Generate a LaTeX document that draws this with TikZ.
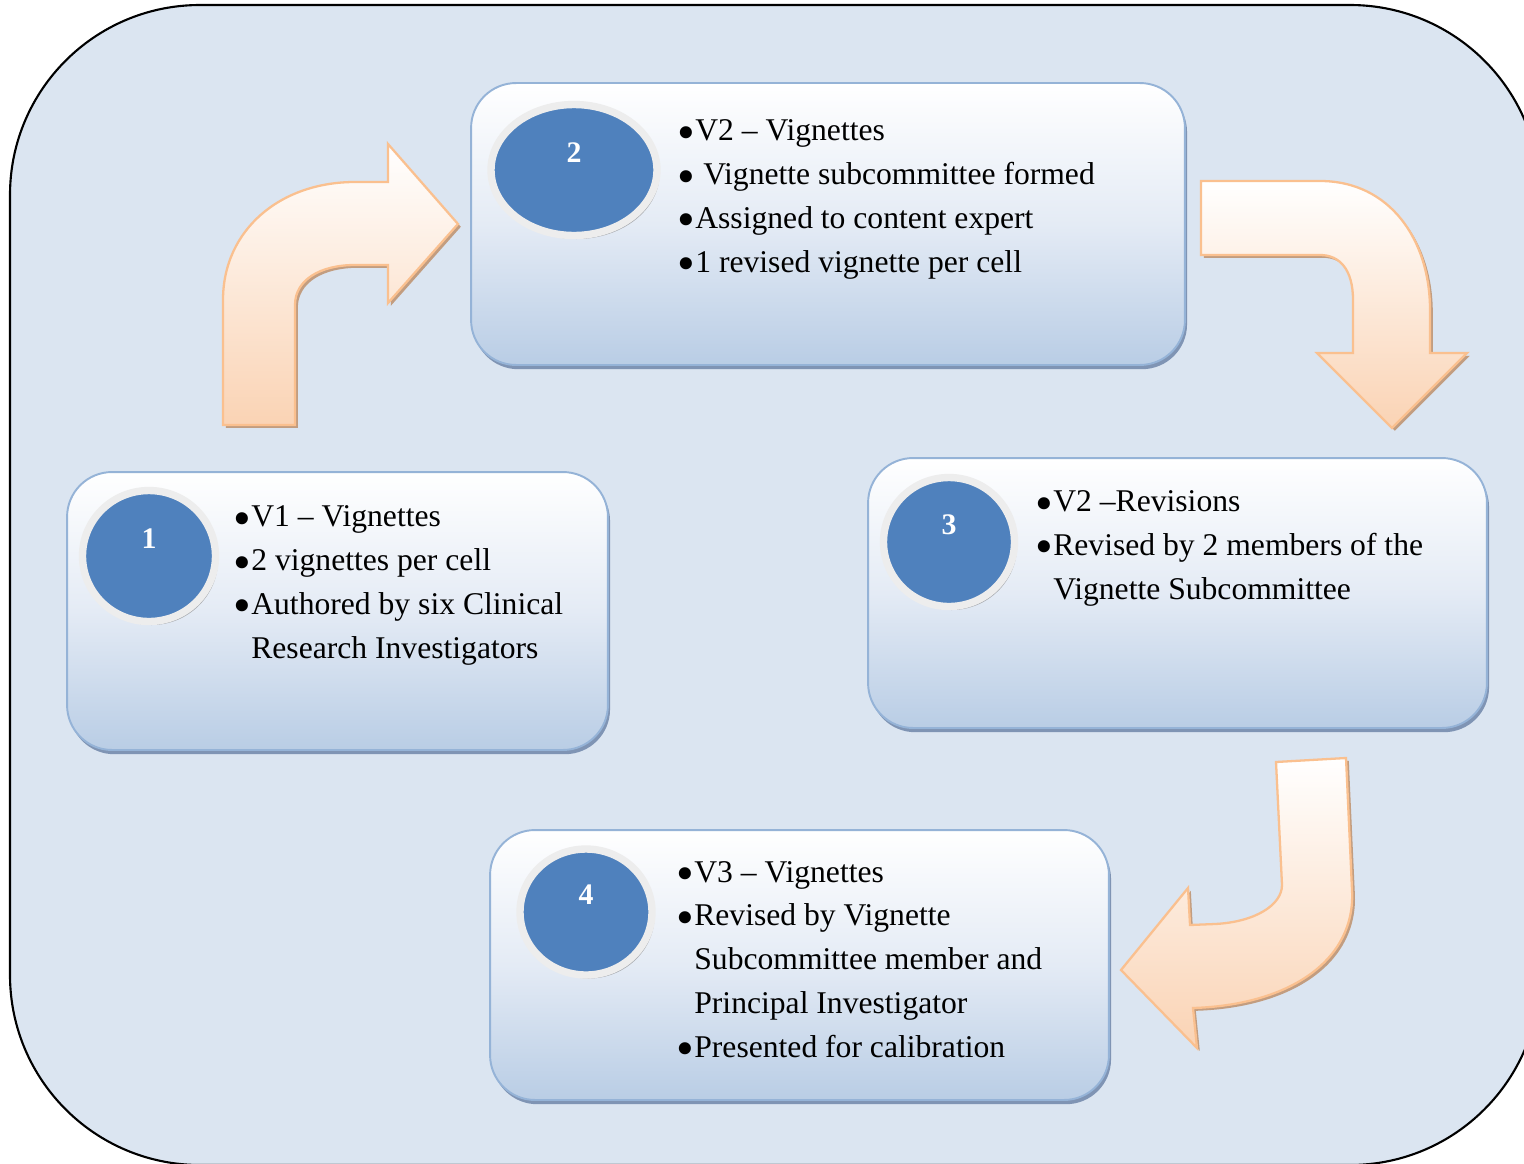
\documentclass[tikz,border=0pt]{standalone}
\usepackage{fontspec}
\setmainfont{Liberation Serif}
\usepackage{graphicx}
\usepackage{xcolor}
\usepackage{tikz}
\usetikzlibrary{positioning,%
  shapes.geometric,%
  shadows
}

\definecolor{bgblue}{HTML}{DBE5F1}
\definecolor{boxline}{HTML}{95B3D7}
\definecolor{boxmid}{HTML}{E4EBF5}
\definecolor{boxbottom}{HTML}{B9CDE5}
\definecolor{boxshade}{HTML}{7F94B4}
\definecolor{numblue}{HTML}{4F81BD}
\definecolor{ringgray}{HTML}{EDEDED}
\definecolor{arrline}{HTML}{FAC08F}
\definecolor{arrfill}{HTML}{FAD3B4}
\definecolor{arrshade}{HTML}{C29D80}

\newcommand{\bul}{\makebox[0.36cm][l]{\smash{\raisebox{-0.27em}{\scalebox{1.6}{\textbullet}}}}}
\newcommand{\ind}{\hspace*{0.36cm}}

\begin{document}
\begin{tikzpicture}
                    [
                        x=0.02cm, y=-0.02cm,
                        stepbox/.style={draw=boxline, line width=1.1pt, rounded corners=0.9cm,
                            top color=white, bottom color=boxbottom, middle color=boxmid,
                            drop shadow={shadow xshift=1.2pt, shadow yshift=-2.4pt, fill=boxshade, opacity=1}},
                        numring/.style={ellipse, fill=numblue, draw=ringgray, line width=4.2pt, inner sep=0pt,
                            drop shadow={shadow xshift=1.5pt, shadow yshift=-2pt, fill=black!50, opacity=.6}},
                        numtext/.style={text=white, inner sep=0pt, font=\fontsize{17}{20}\selectfont\bfseries},
                        itemtext/.style={anchor=base west, align=left, inner sep=0pt,
                            font=\fontsize{18}{24.9}\selectfont},
                        bentarrow/.style={draw=arrline, line width=1.3pt, top color=white, bottom color=arrfill,
                            drop shadow={shadow xshift=1.6pt, shadow yshift=-1.6pt, fill=arrshade, opacity=1}}
                    ]

                    \useasboundingbox (0,0) rectangle (1524,1163);

                    % Hintergrund
                    \begin{scope}
                        \clip (0,0) rectangle (1524,1163);
                        \draw[fill=bgblue, line width=1.2pt, rounded corners=3.8cm] (10,5) rectangle (1540,1165);
                    \end{scope}

                    % Pfeile
                    \path[bentarrow] (223,425) -- (223,300) .. controls (223,230) and (280,182) .. (355,182)
                        -- (388,182) -- (388,144) -- (458,224) -- (388,303) -- (388,265) -- (355,265)
                        .. controls (320,265) and (295,280) .. (295,305) -- (295,425) -- cycle;
                    \path[bentarrow] (1201,181) -- (1320,181) .. controls (1390,181) and (1430,240) .. (1430,310)
                        -- (1430,353) -- (1467,353) -- (1392,428) -- (1317,353) -- (1353,353) -- (1353,300)
                        .. controls (1353,270) and (1340,255) .. (1320,255) -- (1201,255) -- cycle;
                    \path[bentarrow] (1276,762) -- (1346,758) -- (1352,890) .. controls (1356,960) and (1290,1005) .. (1193,1008)
                        -- (1197,1048) -- (1121,970) -- (1188,888) -- (1190,925) -- (1215,924)
                        .. controls (1255,922) and (1282,905) .. (1282,885) -- cycle;

                    % Kaesten
                    \node[stepbox, minimum width=10.82cm, minimum height=5.56cm] (box1) at (337.5,611) {};
                    \node[stepbox, minimum width=14.28cm, minimum height=5.64cm] (box2) at (828,224) {};
                    \node[stepbox, minimum width=12.38cm, minimum height=5.4cm] (box3) at (1177.5,593) {};
                    \node[stepbox, minimum width=12.38cm, minimum height=5.4cm] (box4) at (799.5,965) {};

                    % Nummern
                    \node[numring, minimum width=2.66cm, minimum height=2.62cm] (c1) at (149,556) {};
                    \node[numring, minimum width=3.32cm, minimum height=2.62cm] (c2) at (574,170) {};
                    \node[numring, minimum width=2.62cm, minimum height=2.58cm] (c3) at (949,542) {};
                    \node[numring, minimum width=2.64cm, minimum height=2.52cm] (c4) at (586,912) {};
                    \node[numtext] (n1) at ([yshift=0.34cm]c1.center) {1};
                    \node[numtext] (n2) at ([yshift=0.34cm]c2.center) {2};
                    \node[numtext] (n3) at ([yshift=0.34cm]c3.center) {3};
                    \node[numtext] (n4) at ([yshift=0.34cm]c4.center) {4};

                    % Texte (Anker: Grundlinie der letzten Zeile)
                    \node[itemtext] (t1) at (233,658) {\bul V1 – Vignettes\\\bul 2 vignettes per cell\\
                        \bul Authored by six Clinical\\\ind Research Investigators};
                    \node[itemtext] (t2) at (677,272) {\bul V2 – Vignettes\\\bul\ Vignette subcommittee formed\\
                        \bul Assigned to content expert\\\bul 1 revised vignette per cell};
                    \node[itemtext] (t3) at (1035,599) {\bul V2 –Revisions\\\bul Revised by 2 members of the\\
                        \ind Vignette Subcommittee};
                    \node[itemtext] (t4) at (676,1057) {\bul V3 – Vignettes\\\bul Revised by Vignette\\
                        \ind Subcommittee member and\\\ind Principal Investigator\\\bul Presented for calibration};
                \end{tikzpicture}
\end{document}
